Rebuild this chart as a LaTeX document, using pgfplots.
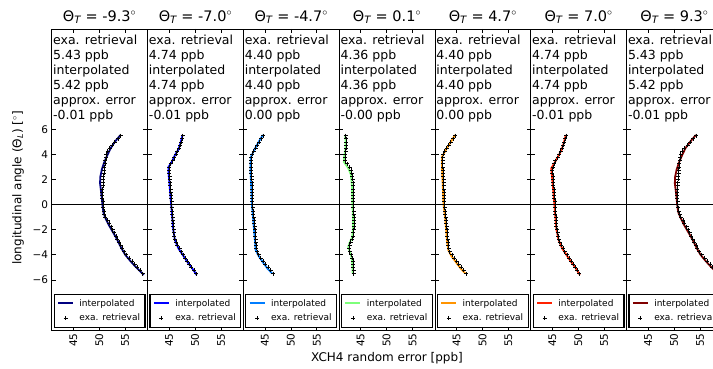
\documentclass[border=0pt]{standalone}
\usepackage{fontspec}
\setmainfont{DejaVu Sans}
\usepackage{pgfplots}
\pgfplotsset{compat=1.18}

\definecolor{c1}{rgb}{0,0,0.5}
\definecolor{c2}{rgb}{0,0,1}
\definecolor{c3}{rgb}{0,0.49,1}
\definecolor{c4}{rgb}{0.49,1,0.48}
\definecolor{c5}{rgb}{1,0.58,0}
\definecolor{c6}{rgb}{1,0.13,0}
\definecolor{c7}{rgb}{0.5,0,0}

\pgfplotsset{
  legend image code/.code={\draw[mark repeat=2,mark phase=2,#1] plot coordinates {(0pt,0pt) (7.5pt,0pt) (15pt,0pt)};},
  panel/.style={
    at={(#1,39pt)}, anchor=south west, scale only axis,
    width=95.8pt, height=301pt,
    xmin=40.83, xmax=59.3, ymin=-10, ymax=14,
    xtick={45,50,55}, ytick={-6,-4,-2,0,2,4,6},
    axis line style={line width=0.8pt},
    major tick length=4pt,
    tick style={black, line width=0.6pt},
    x tick label style={rotate=90, anchor=east, font=\fontsize{10.5}{12}\selectfont},
    y tick label style={font=\fontsize{10.5}{12}\selectfont},
    /pgf/number format/assume math mode=true,
    yticklabels={},
    title style={font=\fontsize{14.5}{16}\selectfont, yshift=-4pt},
    legend style={at={(0.5,0.007)}, anchor=south, draw=black, line width=1.1pt,
      font=\fontsize{9}{10}\selectfont, inner xsep=3pt, inner ysep=3pt,
      row sep=2.5pt, column sep=3.5pt},
    legend cell align=left,
  },
  intp/.style={#1, line width=1.8pt, no markers},
  exa/.style={only marks, mark=+, black, mark size=2pt, mark options={line width=0.7pt}},
}
\newcommand{\zeroline}{\addplot[black, line width=0.8pt, forget plot] coordinates {(40.83,0) (59.3,0)};}
\newcommand{\info}[3]{\node[anchor=north west, align=left, inner sep=0pt, font=\fontsize{12.5}{15}\selectfont, xshift=1.3pt, yshift=-6pt] at (rel axis cs:0,1) {exa. retrieval\\#1 ppb\\interpolated\\#2 ppb\\approx. error\\#3 ppb};}

\begin{document}
\begin{tikzpicture}

% ---------- panel 1 ----------
\begin{axis}[panel=51.7pt, title={Θ\textsubscript{\itshape T} = -9.3$^\circ$},
  yticklabels={−6,−4,−2,0,2,4,6}]
\zeroline
\addplot[intp=c1] coordinates {(54.1,5.55) (53.0,5.0) (52.2,4.5) (51.4,3.8) (50.9,3.3) (50.5,2.8) (50.2,2.2) (50.15,1.7) (50.3,1.2) (50.5,0.5) (50.6,0.0) (50.8,-0.6) (51.1,-1.0) (51.8,-1.6) (52.5,-2.1) (53.2,-2.6) (53.7,-3.0) (54.3,-3.5) (55.0,-4.0) (56.0,-4.5) (57.1,-5.0) (58.6,-5.6)};
\addlegendentry{interpolated}
\addplot[exa] coordinates {(54.1,5.5) (53.6,5.25) (53.0,5.0) (52.5,4.75) (52.0,4.5) (51.6,4.25) (51.3,4.0) (51.3,3.75) (51.1,3.5) (51.1,3.25) (51.0,3.0) (50.9,2.75) (50.9,2.5) (50.8,2.25) (50.8,2.0) (50.7,1.75) (50.7,1.5) (50.6,1.25) (50.6,1.0) (50.6,0.75) (50.6,0.5) (50.7,0.25) (50.7,0.0) (50.8,-0.25) (50.9,-0.5) (51.0,-0.75) (51.2,-1.0) (51.6,-1.25) (51.9,-1.5) (52.3,-1.75) (52.6,-2.0) (52.9,-2.25) (53.2,-2.5) (53.5,-2.75) (53.8,-3.0) (54.1,-3.25) (54.4,-3.5) (54.8,-3.75) (55.2,-4.0) (55.8,-4.25) (56.3,-4.5) (56.8,-4.75) (57.3,-5.0) (57.9,-5.25) (58.4,-5.5)};
\addlegendentry{exa. retrieval}
\info{5.43}{5.42}{-0.01}
\end{axis}

% ---------- panel 2 ----------
\begin{axis}[panel=147.5pt, title={Θ\textsubscript{\itshape T} = -7.0$^\circ$}]
\zeroline
\addplot[intp=c2] coordinates {(47.6,5.55) (47.2,4.9) (46.8,4.4) (46.2,4.0) (45.5,3.4) (44.9,3.0) (44.9,2.5) (45.1,1.5) (45.3,0.5) (45.4,0.0) (45.6,-1.0) (45.8,-2.0) (46.1,-2.8) (46.8,-3.5) (47.6,-4.0) (48.4,-4.5) (49.3,-5.0) (50.3,-5.6)};
\addlegendentry{interpolated}
\addplot[exa] coordinates {(47.6,5.5) (47.5,5.25) (47.3,5.0) (47.1,4.75) (46.9,4.5) (46.6,4.25) (46.3,4.0) (46.0,3.75) (45.7,3.5) (45.3,3.25) (45.0,3.0) (45.0,2.75) (45.0,2.5) (45.1,2.25) (45.1,2.0) (45.2,1.75) (45.2,1.5) (45.3,1.25) (45.3,1.0) (45.4,0.75) (45.4,0.5) (45.5,0.25) (45.5,0.0) (45.5,-0.25) (45.6,-0.5) (45.6,-0.75) (45.7,-1.0) (45.7,-1.25) (45.8,-1.5) (45.8,-1.75) (45.9,-2.0) (45.9,-2.25) (46.0,-2.5) (46.1,-2.75) (46.3,-3.0) (46.6,-3.25) (47.0,-3.5) (47.3,-3.75) (47.7,-4.0) (48.1,-4.25) (48.5,-4.5) (48.9,-4.75) (49.3,-5.0) (49.8,-5.25) (50.2,-5.5)};
\addlegendentry{exa. retrieval}
\info{4.74}{4.74}{-0.01}
\end{axis}

% ---------- panel 3 ----------
\begin{axis}[panel=243.3pt, title={Θ\textsubscript{\itshape T} = -4.7$^\circ$}]
\zeroline
\addplot[intp=c3] coordinates {(44.6,5.55) (43.8,5.0) (43.0,4.4) (42.3,3.8) (42.2,3.0) (42.3,2.0) (42.4,1.0) (42.5,0.0) (42.7,-1.0) (42.9,-2.0) (43.1,-3.0) (43.2,-3.6) (43.8,-4.1) (44.6,-4.6) (45.5,-5.1) (46.4,-5.5)};
\addlegendentry{interpolated}
\addplot[exa] coordinates {(44.7,5.5) (44.3,5.25) (43.9,5.0) (43.5,4.75) (43.2,4.5) (42.8,4.25) (42.5,4.0) (42.4,3.75) (42.3,3.5) (42.3,3.25) (42.35,3.0) (42.4,2.75) (42.4,2.5) (42.45,2.25) (42.45,2.0) (42.5,1.75) (42.5,1.5) (42.55,1.25) (42.55,1.0) (42.6,0.75) (42.6,0.5) (42.6,0.25) (42.6,0.0) (42.65,-0.25) (42.7,-0.5) (42.75,-0.75) (42.8,-1.0) (42.9,-1.25) (42.95,-1.5) (43.0,-1.75) (43.1,-2.0) (43.1,-2.25) (43.15,-2.5) (43.2,-2.75) (43.2,-3.0) (43.25,-3.25) (43.3,-3.5) (43.5,-3.75) (43.8,-4.0) (44.2,-4.25) (44.7,-4.5) (45.1,-4.75) (45.6,-5.0) (46.1,-5.25) (46.6,-5.5)};
\addlegendentry{exa. retrieval}
\info{4.40}{4.40}{0.00}
\end{axis}

% ---------- panel 4 ----------
\begin{axis}[panel=339.1pt, title={Θ\textsubscript{\itshape T} = 0.1$^\circ$}]
\zeroline
\addplot[intp=c4] coordinates {(42.0,5.55) (42.1,5.0) (42.05,4.4) (41.8,3.8) (41.75,3.4) (42.6,2.9) (43.1,2.4) (43.3,1.5) (43.4,0.0) (43.5,-1.0) (43.5,-2.0) (43.35,-2.6) (42.8,-3.1) (42.6,-3.4) (43.0,-3.9) (43.3,-4.3) (43.4,-5.0) (43.45,-5.5)};
\addlegendentry{interpolated}
\addplot[exa] coordinates {(42.1,5.5) (42.2,5.25) (42.25,5.0) (42.25,4.75) (42.2,4.5) (42.1,4.25) (42.0,4.0) (41.95,3.75) (42.0,3.5) (42.4,3.25) (42.85,3.0) (43.1,2.75) (43.25,2.5) (43.35,2.25) (43.45,2.0) (43.5,1.75) (43.5,1.5) (43.55,1.25) (43.55,1.0) (43.55,0.75) (43.6,0.5) (43.6,0.25) (43.6,0.0) (43.6,-0.25) (43.65,-0.5) (43.65,-0.75) (43.7,-1.0) (43.7,-1.25) (43.7,-1.5) (43.7,-1.75) (43.65,-2.0) (43.6,-2.25) (43.5,-2.5) (43.3,-2.75) (43.05,-3.0) (42.85,-3.25) (42.75,-3.5) (42.9,-3.75) (43.2,-4.0) (43.4,-4.25) (43.5,-4.5) (43.55,-4.75) (43.6,-5.0) (43.65,-5.25) (43.65,-5.5)};
\addlegendentry{exa. retrieval}
\info{4.36}{4.36}{-0.00}
\end{axis}

% ---------- panel 5 ----------
\begin{axis}[panel=434.9pt, title={Θ\textsubscript{\itshape T} = 4.7$^\circ$}]
\zeroline
\addplot[intp=c5] coordinates {(44.7,5.55) (43.9,5.0) (43.0,4.4) (42.2,3.8) (42.2,3.0) (42.3,2.0) (42.4,1.0) (42.5,0.0) (42.8,-1.0) (43.0,-2.0) (43.2,-3.0) (43.4,-3.6) (44.0,-4.1) (44.9,-4.6) (45.8,-5.1) (46.7,-5.5)};
\addlegendentry{interpolated}
\addplot[exa] coordinates {(44.8,5.5) (44.4,5.25) (43.9,5.0) (43.5,4.75) (43.1,4.5) (42.7,4.25) (42.4,4.0) (42.3,3.75) (42.3,3.5) (42.3,3.25) (42.35,3.0) (42.4,2.75) (42.4,2.5) (42.45,2.25) (42.5,2.0) (42.5,1.75) (42.55,1.5) (42.55,1.25) (42.6,1.0) (42.6,0.75) (42.6,0.5) (42.65,0.25) (42.65,0.0) (42.7,-0.25) (42.75,-0.5) (42.8,-0.75) (42.9,-1.0) (42.95,-1.25) (43.0,-1.5) (43.1,-1.75) (43.15,-2.0) (43.2,-2.25) (43.25,-2.5) (43.3,-2.75) (43.35,-3.0) (43.4,-3.25) (43.5,-3.5) (43.7,-3.75) (44.1,-4.0) (44.5,-4.25) (45.0,-4.5) (45.4,-4.75) (45.9,-5.0) (46.4,-5.25) (46.9,-5.5)};
\addlegendentry{exa. retrieval}
\info{4.40}{4.40}{0.00}
\end{axis}

% ---------- panel 6 ----------
\begin{axis}[panel=530.7pt, title={Θ\textsubscript{\itshape T} = 7.0$^\circ$}]
\zeroline
\addplot[intp=c6] coordinates {(47.6,5.55) (47.2,4.9) (46.8,4.4) (46.2,3.9) (45.4,3.3) (44.8,2.9) (44.9,2.4) (45.1,1.5) (45.3,0.5) (45.4,0.0) (45.6,-1.0) (45.8,-2.0) (46.2,-2.8) (46.9,-3.5) (47.7,-4.0) (48.5,-4.5) (49.4,-5.0) (50.3,-5.6)};
\addlegendentry{interpolated}
\addplot[exa] coordinates {(47.7,5.5) (47.5,5.25) (47.3,5.0) (47.1,4.75) (46.9,4.5) (46.6,4.25) (46.3,4.0) (46.0,3.75) (45.6,3.5) (45.3,3.25) (45.1,3.0) (45.0,2.75) (45.0,2.5) (45.1,2.25) (45.1,2.0) (45.2,1.75) (45.2,1.5) (45.3,1.25) (45.3,1.0) (45.4,0.75) (45.4,0.5) (45.5,0.25) (45.5,0.0) (45.5,-0.25) (45.6,-0.5) (45.6,-0.75) (45.7,-1.0) (45.7,-1.25) (45.8,-1.5) (45.8,-1.75) (45.9,-2.0) (46.0,-2.25) (46.1,-2.5) (46.2,-2.75) (46.4,-3.0) (46.7,-3.25) (47.1,-3.5) (47.4,-3.75) (47.8,-4.0) (48.2,-4.25) (48.6,-4.5) (49.0,-4.75) (49.4,-5.0) (49.8,-5.25) (50.2,-5.5)};
\addlegendentry{exa. retrieval}
\info{4.74}{4.74}{-0.01}
\end{axis}

% ---------- panel 7 ----------
\begin{axis}[panel=626.5pt, title={Θ\textsubscript{\itshape T} = 9.3$^\circ$}]
\zeroline
\addplot[intp=c7] coordinates {(54.2,5.55) (53.1,5.0) (52.2,4.5) (51.4,3.8) (50.9,3.3) (50.5,2.8) (50.2,2.2) (50.15,1.7) (50.3,1.2) (50.5,0.5) (50.6,0.0) (50.8,-0.6) (51.2,-1.0) (51.9,-1.6) (52.6,-2.1) (53.3,-2.6) (53.8,-3.0) (54.4,-3.5) (55.1,-4.0) (56.1,-4.5) (57.2,-5.0) (58.7,-5.6)};
\addlegendentry{interpolated}
\addplot[exa] coordinates {(54.2,5.5) (53.7,5.25) (53.1,5.0) (52.6,4.75) (52.0,4.5) (51.6,4.25) (51.3,4.0) (51.2,3.75) (51.1,3.5) (51.0,3.25) (51.0,3.0) (50.9,2.75) (50.9,2.5) (50.8,2.25) (50.8,2.0) (50.7,1.75) (50.7,1.5) (50.6,1.25) (50.6,1.0) (50.6,0.75) (50.6,0.5) (50.7,0.25) (50.7,0.0) (50.8,-0.25) (50.9,-0.5) (51.1,-0.75) (51.3,-1.0) (51.7,-1.25) (52.0,-1.5) (52.4,-1.75) (52.7,-2.0) (53.0,-2.25) (53.3,-2.5) (53.6,-2.75) (53.9,-3.0) (54.2,-3.25) (54.5,-3.5) (54.9,-3.75) (55.3,-4.0) (55.9,-4.25) (56.4,-4.5) (56.9,-4.75) (57.4,-5.0) (58.0,-5.25) (58.5,-5.5)};
\addlegendentry{exa. retrieval}
\info{5.43}{5.42}{-0.01}
\end{axis}

% axis labels
\node[rotate=90, font=\fontsize{12}{14}\selectfont] at (18pt,181pt) {longitudinal angle (Θ\textsubscript{\itshape L}) [$^\circ$]};
\node[font=\fontsize{12}{14}\selectfont] at (387pt,11pt) {XCH4 random error [ppb]};

\pgfresetboundingbox
\path[use as bounding box] (0,0) rectangle (713pt,369pt);
\end{tikzpicture}
\end{document}
